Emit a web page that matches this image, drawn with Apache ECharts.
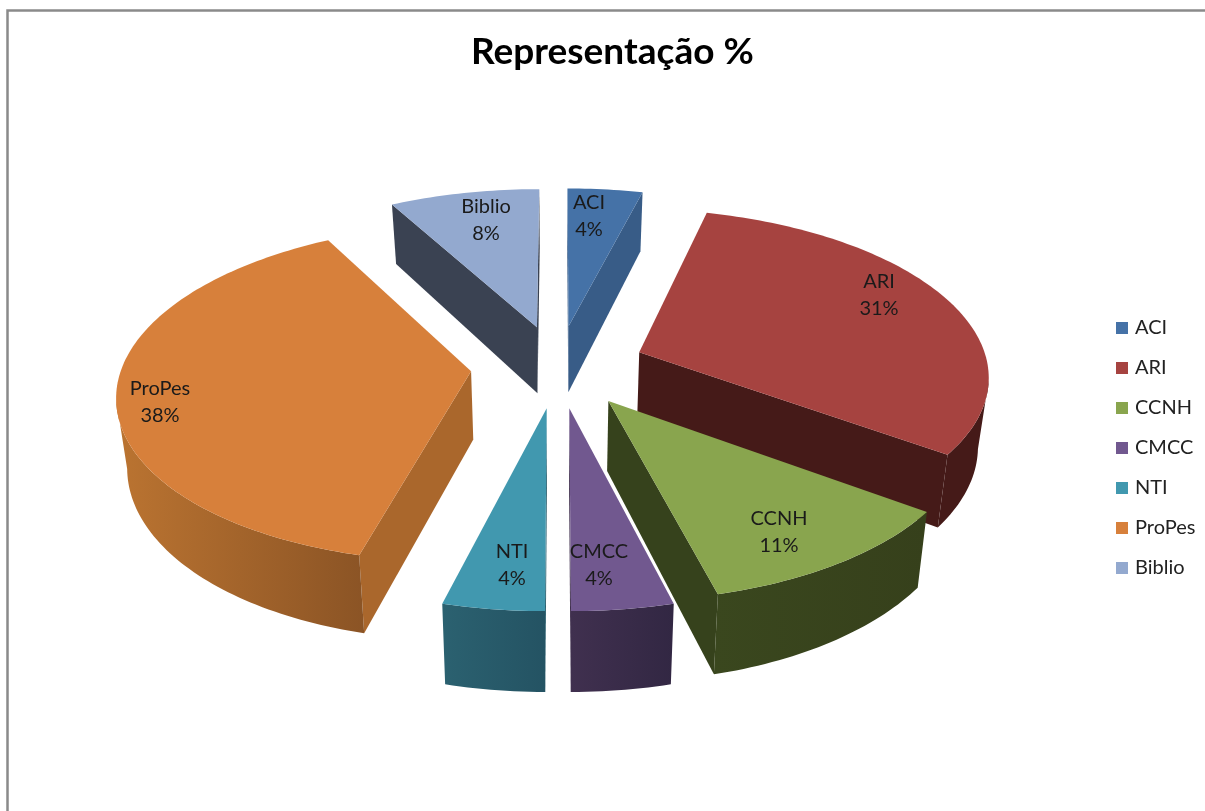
<!DOCTYPE html>
<html>
<head>
<meta charset="utf-8">
<title>Representação %</title>
<script src="https://cdn.jsdelivr.net/npm/echarts@6/dist/echarts.min.js"></script>
<style>
  html, body { margin: 0; padding: 0; background: #fff; }
  #main { width: 1205px; height: 811px; }
</style>
</head>
<body>
<div id="main"></div>
<script>
const categories = ["ACI", "ARI", "CCNH", "CMCC", "NTI", "ProPes", "Biblio"];
const values = [4, 31, 11, 4, 4, 38, 8];

// colours: top face, cut wall, rim wall left, rim wall right
const topColors = ["#4572a7", "#a64340", "#89a54e", "#71588f", "#4198af", "#d7803b", "#93a9cf"];
const cutColors = ["#385c87", "#451a18", "#36421c", "#3f2f4d", "#2a5f6e", "#aa672c", "#3a4252"];
const rimLeft = ["#385c87", "#451a18", "#3a471e", "#40304f", "#2b6170", "#bb7431", "#3a4252"];
const rimRight = ["#385c87", "#451a18", "#36401b", "#322743", "#245363", "#8b5425", "#3a4252"];
const drawOrder = [1, 1, 2, 3, 3, 2, 1];
const labelSpots = [[589, 216], [879, 295], [779, 532], [599, 565], [512, 565], [160, 402], [486, 220]];

// projection of the tilted pie, a unit disc seen in perspective
const CX = 558, CY = 366, RX = 349, RY = 165, PERSP = 0.128, HEIGHT = 68, EXPLODE = 0.25;
const BOTTOM_SHRINK = 0.975; // walls lean inward going down
const total = values.reduce((a, b) => a + b, 0);

function project(x, y, down) {
  const p = 1 / (1 - PERSP * y);
  const k = down ? BOTTOM_SHRINK : 1;
  return [CX + RX * x * p * k, CY + RY * y * p + (down ? HEIGHT * p : 0)];
}

const renderSlice = (params, api) => {
  const i = params.seriesIndex;
  const before = values.slice(0, i).reduce((a, b) => a + b, 0);
  const t0 = (before / total) * 2 * Math.PI;
  const t1 = ((before + api.value(0)) / total) * 2 * Math.PI;
  const mid = (t0 + t1) / 2;
  const ox = EXPLODE * Math.sin(mid);
  const oy = -EXPLODE * Math.cos(mid);
  const camY = 1 / PERSP;

  const steps = Math.max(4, Math.ceil((t1 - t0) / 0.02));
  const rim = [];
  for (let s = 0; s <= steps; s++) {
    const t = t0 + ((t1 - t0) * s) / steps;
    rim.push({ t, x: ox + Math.sin(t), y: oy - Math.cos(t) });
  }
  const children = [];
  const wall = (pts, fill) => {
    const up = pts.map((q) => project(q.x, q.y, false));
    const low = pts.map((q) => project(q.x, q.y, true)).reverse();
    children.push({
      type: "polygon",
      shape: { points: up.concat(low) },
      style: { fill: fill },
    });
  };

  // cut walls, only when they face the camera
  const first = rim[0];
  const last = rim[rim.length - 1];
  if (-Math.cos(t0) * (0 - ox) - Math.sin(t0) * (camY - oy) > 0) {
    wall([{ x: ox, y: oy }, first], cutColors[i]);
  }
  if (Math.cos(t1) * (0 - ox) + Math.sin(t1) * (camY - oy) > 0) {
    wall([{ x: ox, y: oy }, last], cutColors[i]);
  }
  // outer wall
  const seen = rim.filter((q) => Math.sin(q.t) * (0 - q.x) - Math.cos(q.t) * (camY - q.y) > 0);
  if (seen.length > 1) {
    wall(seen, new echarts.graphic.LinearGradient(0, 0, 1, 0, [
      { offset: 0, color: rimLeft[i] },
      { offset: 1, color: rimRight[i] },
    ]));
  }
  // top face
  children.push({
    type: "polygon",
    shape: {
      points: [project(ox, oy, false)].concat(rim.map((q) => project(q.x, q.y, false))),
    },
    style: { fill: topColors[i] },
  });
  children.push({
    type: "text",
    x: labelSpots[i][0],
    y: labelSpots[i][1],
    style: {
      text: categories[i] + "\n" + api.value(0) + "%",
      fill: "#1a1a1a",
      font: '20px "Lato"',
      lineHeight: 27,
      align: "center",
      verticalAlign: "middle",
    },
  });
  return { type: "group", children };
};

const chart = echarts.init(document.getElementById("main"));
chart.setOption({
  animation: false,
  backgroundColor: "#fff",
  title: {
    text: "Representação %",
    left: 466,
    top: 29,
    textStyle: { fontFamily: "Lato", fontWeight: "bold", fontSize: 37, color: "#000" },
  },
  legend: {
    orient: "vertical",
    left: 1111,
    top: 313,
    itemWidth: 12,
    itemHeight: 12,
    itemGap: 20,
    icon: "rect",
    data: categories,
    textStyle: { fontFamily: "Lato", fontSize: 20, color: "#222", padding: [0, 0, 0, 2] },
  },
  graphic: [
    {
      type: "rect",
      shape: { x: 7.5, y: 10.5, width: 1300, height: 900 },
      style: { fill: "none", stroke: "#8a8a8a", lineWidth: 2.5 },
      silent: true,
    },
  ],
  series: categories.map((name, i) => ({
    type: "custom",
    name,
    coordinateSystem: "none",
    z: drawOrder[i] + 2,
    silent: true,
    itemStyle: { color: topColors[i] },
    renderItem: renderSlice,
    data: [values[i]],
  })),
});
</script>
</body>
</html>
